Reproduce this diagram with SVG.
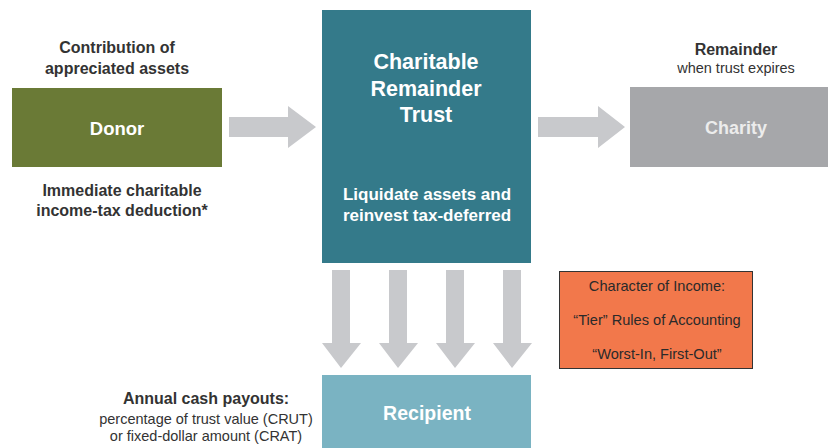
<svg xmlns="http://www.w3.org/2000/svg" width="828" height="448" viewBox="0 0 828 448">
<style>
text{font-family:"Liberation Sans",Arial,sans-serif;text-anchor:middle}
.lbl{font-size:16px;font-weight:bold;fill:#333}
.sm{font-size:14.5px;fill:#333}
.wt{fill:#fff;font-weight:bold}
.arrow{fill:#c8c9cc}
.box{font-size:14.6px;fill:#2a2a2a}
</style>
<rect width="828" height="448" fill="#fff"/>
<g id="connectors">
<polygon class="arrow" points="229,117 288,117 288,106 316,127 288,148 288,137 229,137"/>
<polygon class="arrow" points="538,117 598,117 598,106 625,127 598,148 598,137 538,137"/>
<polygon class="arrow" points="332,270 350,270 350,343 361,343 341,368 322,343 332,343"/>
<polygon class="arrow" points="389,270 407,270 407,343 418,343 398,368 379,343 389,343"/>
<polygon class="arrow" points="446,270 464,270 464,343 475,343 455,368 436,343 446,343"/>
<polygon class="arrow" points="503,270 521,270 521,343 532,343 512,368 493,343 503,343"/>
</g>
<g id="donor">
<text class="lbl" x="117" y="53" font-size="16.6">Contribution of</text>
<text class="lbl" x="117" y="74" font-size="16.6">appreciated assets</text>
<rect x="12" y="88" width="210" height="79" fill="#6a7a36"/>
<text class="wt" x="117" y="135" font-size="18.5">Donor</text>
<text class="lbl" x="122" y="196">Immediate charitable</text>
<text class="lbl" x="122" y="216">income-tax deduction*</text>
</g>
<g id="trust">
<rect x="322" y="10" width="209" height="253" fill="#347a8a"/>
<text class="wt" x="426" y="69" font-size="21.5">Charitable</text>
<text class="wt" x="426" y="96" font-size="21.5">Remainder</text>
<text class="wt" x="426" y="122" font-size="21.5">Trust</text>
<text class="wt" x="427" y="200" font-size="17">Liquidate assets and</text>
<text class="wt" x="427" y="221" font-size="17">reinvest tax-deferred</text>
</g>
<g id="charity">
<text class="lbl" x="736" y="55">Remainder</text>
<text class="sm" x="736" y="73" font-size="15">when trust expires</text>
<rect x="630" y="87" width="198" height="80" fill="#a6a7aa"/>
<text x="736" y="134" font-size="18" font-weight="bold" fill="#ececec">Charity</text>
</g>
<g id="recipient">
<text class="lbl" x="206" y="404" font-size="17">Annual cash payouts:</text>
<text class="sm" x="206" y="424" font-size="15">percentage of trust value (CRUT)</text>
<text class="sm" x="206" y="441" font-size="15">or fixed-dollar amount (CRAT)</text>
<rect x="322" y="375" width="209" height="73" fill="#7ab3c2"/>
<text class="wt" x="427" y="420" font-size="19.5">Recipient</text>
</g>
<g id="character">
<rect x="559.5" y="271.5" width="193" height="97" fill="#f2784b" stroke="#333" stroke-width="1"/>
<text class="box" x="657" y="291">Character of Income:</text>
<text class="box" x="657" y="325">“Tier” Rules of Accounting</text>
<text class="box" x="657" y="359">“Worst-In, First-Out”</text>
</g>
</svg>
